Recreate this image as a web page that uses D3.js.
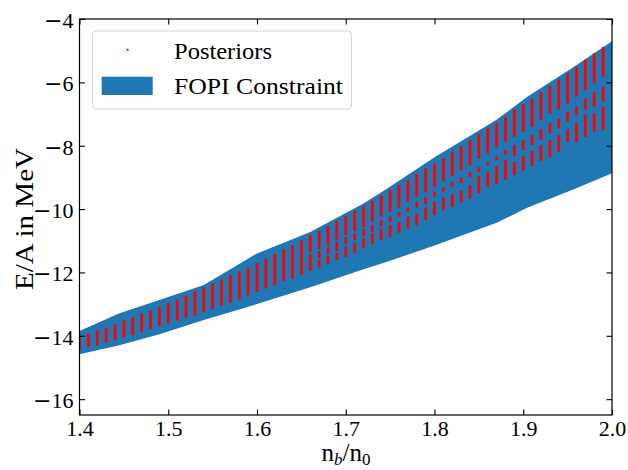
<!DOCTYPE html>
<html>
<head>
<meta charset="utf-8">
<script src="https://cdn.jsdelivr.net/npm/d3@7"></script>
<style>
  body { margin: 0; background: #fff; }
  svg { display: block; }
  text { font-family: "Liberation Serif", "Times New Roman", serif; fill: #000; }
</style>
</head>
<body>
<svg id="chart" width="628" height="470"></svg>
<script>
// FOPI constraint band: E/A bounds (MeV) versus density n_b/n_0
const fopiDensity = [1.40, 1.445, 1.49, 1.54, 1.60, 1.66, 1.72, 1.745, 1.80, 1.87, 1.905, 1.955, 2.00];
const fopiUpper   = [-13.85, -13.29, -12.87, -12.40, -11.40, -10.72, -9.82, -9.38, -8.36, -7.18, -6.45, -5.55, -4.70];
const fopiLower   = [-14.58, -14.30, -13.95, -13.50, -13.00, -12.47, -11.90, -11.68, -11.15, -10.43, -9.95, -9.40, -8.87];

// Posterior samples: densities where E/A is evaluated
const posteriorDensity = [
  1.40, 1.41, 1.42, 1.43, 1.44, 1.45, 1.46, 1.47, 1.48, 1.49,
  1.50, 1.51, 1.52, 1.53, 1.54, 1.55, 1.56, 1.57, 1.58, 1.59,
  1.60, 1.61, 1.62, 1.63, 1.64, 1.65, 1.66, 1.67, 1.68, 1.69,
  1.70, 1.71, 1.72, 1.73, 1.74, 1.75, 1.76, 1.77, 1.78, 1.79,
  1.80, 1.81, 1.82, 1.83, 1.84, 1.85, 1.86, 1.87, 1.88, 1.89,
  1.90, 1.91, 1.92, 1.93, 1.94, 1.95, 1.96, 1.97, 1.98, 1.99
];
// E/A ranges [low, high] covered by the posterior samples at each density
const posteriorRanges = [
  [[-14.45, -14.01]], [[-14.35, -13.93]], [[-14.30, -13.82]], [[-14.21, -13.74]], [[-14.14, -13.63]],
  [[-14.05, -13.51]], [[-13.98, -13.42]], [[-13.88, -13.29]], [[-13.79, -13.21]], [[-13.69, -13.09]],
  [[-13.61, -12.96]], [[-13.53, -12.85]], [[-13.43, -12.73]], [[-13.36, -12.60]], [[-13.25, -12.47]],
  [[-13.15, -12.35]], [[-13.05, -12.22]], [[-12.96, -12.09]], [[-12.85, -11.97]], [[-12.72, -11.84]],
  [[-12.61, -11.70]], [[-12.51, -11.56]], [[-12.40, -11.42]], [[-12.27, -11.27]], [[-12.19, -11.14]],
  [[-12.08, -10.98]],
  [[-11.95, -11.42], [-11.36, -10.83]],
  [[-11.84, -11.61], [-11.55, -11.33], [-11.26, -10.69]],
  [[-11.74, -11.47], [-11.41, -11.20], [-11.14, -10.54]],
  [[-11.61, -11.38], [-11.32, -11.03], [-10.96, -10.37]],
  [[-11.51, -11.19], [-11.11, -10.89], [-10.82, -10.22]],
  [[-11.38, -11.07], [-10.98, -10.77], [-10.69, -10.06]],
  [[-11.24, -10.93], [-10.85, -10.64], [-10.58, -9.91]],
  [[-11.11, -10.77], [-10.72, -10.51], [-10.40, -9.74]],
  [[-10.98, -10.62], [-10.54, -10.35], [-10.24, -9.57]],
  [[-10.88, -10.51], [-10.40, -10.24], [-10.09, -9.40]],
  [[-10.75, -10.40], [-10.24, -10.09], [-9.95, -9.24]],
  [[-10.61, -10.24], [-10.09, -9.95], [-9.77, -9.08]],
  [[-10.51, -10.14], [-9.95, -9.77], [-9.61, -8.89]],
  [[-10.35, -9.95], [-9.84, -9.61], [-9.45, -8.72]],
  [[-10.19, -9.77], [-9.61, -9.45], [-9.30, -8.56]],
  [[-10.03, -9.63], [-9.45, -9.32], [-9.11, -8.40]],
  [[-9.93, -9.53], [-9.30, -9.14], [-8.96, -8.19]],
  [[-9.80, -9.42], [-9.19, -9.00], [-8.77, -8.01]],
  [[-9.66, -9.24], [-9.00, -8.82], [-8.61, -7.82]],
  [[-9.51, -8.96], [-8.82, -8.68], [-8.40, -7.63]],
  [[-9.30, -8.82], [-8.61, -8.51], [-8.24, -7.45]],
  [[-9.21, -8.64], [-8.45, -8.33], [-8.05, -7.28]],
  [[-9.07, -8.45], [-8.29, -8.14], [-7.88, -7.09]],
  [[-8.93, -8.51], [-8.33, -7.98], [-7.72, -6.85]],
  [[-8.79, -8.33], [-8.14, -7.82], [-7.56, -6.68]],
  [[-8.64, -8.16], [-7.98, -7.66], [-7.40, -6.51]],
  [[-8.48, -7.98], [-7.82, -7.48], [-7.19, -6.30]],
  [[-8.35, -7.82], [-7.61, -7.29], [-6.98, -6.12]],
  [[-8.20, -7.66], [-7.45, -7.14], [-6.85, -5.91]],
  [[-7.88, -7.48], [-7.24, -6.93], [-6.66, -5.70]],
  [[-7.88, -7.29], [-7.03, -6.77], [-6.45, -5.51]],
  [[-7.72, -7.03], [-6.87, -6.51], [-6.24, -5.29]],
  [[-7.56, -6.98], [-6.77, -6.30], [-6.03, -5.08]],
  [[-7.51, -6.77], [-6.61, -6.14], [-5.82, -4.88]]
];

const xTicks = [1.4, 1.5, 1.6, 1.7, 1.8, 1.9, 2.0];
const yTicks = [-16, -14, -12, -10, -8, -6, -4];
const legendLabels = ["Posteriors", "FOPI Constraint"];

const BLUE = "#1f77b4", RED = "#ff0000";
const plot = { left: 79.5, right: 612, top: 19, bottom: 415 };

const svg = d3.select("#chart");
const x = d3.scaleLinear().domain([1.4, 2.0]).range([plot.left, plot.right]);
const y = d3.scaleLinear().domain([-16.5, -4]).range([plot.bottom, plot.top]);

svg.append("defs").append("clipPath").attr("id", "plotClip")
  .append("rect")
  .attr("x", plot.left).attr("y", plot.top)
  .attr("width", plot.right - plot.left).attr("height", plot.bottom - plot.top);

const body = svg.append("g").attr("clip-path", "url(#plotClip)");

// FOPI band
const band = fopiDensity.map((n, i) => ({ n, lo: fopiLower[i], hi: fopiUpper[i] }));
body.append("path")
  .datum(band)
  .attr("fill", BLUE)
  .attr("d", d3.area().x(d => x(d.n)).y0(d => y(d.lo)).y1(d => y(d.hi)));

// Posterior samples
const runs = [];
posteriorDensity.forEach((n, i) => posteriorRanges[i].forEach(r => runs.push({ n, lo: r[0], hi: r[1] })));
body.append("g").selectAll("rect")
  .data(runs)
  .join("rect")
  .attr("x", d => x(d.n) - 1.4)
  .attr("width", 2.8)
  .attr("y", d => y(d.hi))
  .attr("height", d => y(d.lo) - y(d.hi))
  .attr("fill", RED);

// Axes with inward ticks on all four sides
const TICK = 5.5;
const fmtX = d3.format(".1f");
const gx = svg.append("g").attr("transform", `translate(0,${plot.bottom})`)
  .call(d3.axisBottom(x).tickValues(xTicks).tickFormat(fmtX).tickSizeInner(-TICK).tickSizeOuter(0).tickPadding(5));
const gxTop = svg.append("g").attr("transform", `translate(0,${plot.top})`)
  .call(d3.axisTop(x).tickValues(xTicks).tickFormat("").tickSizeInner(-TICK).tickSizeOuter(0));
const gy = svg.append("g").attr("transform", `translate(${plot.left},0)`)
  .call(d3.axisLeft(y).tickValues(yTicks).tickSizeInner(-TICK).tickSizeOuter(0).tickPadding(6));
const gyRight = svg.append("g").attr("transform", `translate(${plot.right},0)`)
  .call(d3.axisRight(y).tickValues(yTicks).tickFormat("").tickSizeInner(-TICK).tickSizeOuter(0));

[gx, gxTop, gy, gyRight].forEach(g => {
  g.select(".domain").remove();
  g.selectAll(".tick line").attr("stroke", "#000").attr("stroke-width", 1.1);
});
gx.selectAll(".tick text").attr("font-size", 22).attr("font-family", "Liberation Serif").attr("fill", "#000");
gy.selectAll(".tick text")
  .attr("font-size", 22).attr("font-family", "Liberation Serif").attr("fill", "#000").attr("dy", "0.38em")
  .each(function (d) {
    const t = d3.select(this).text(null);
    if (d < 0) t.append("tspan").attr("font-family", "DejaVu Sans").text("\u2212");
    t.append("tspan").text(Math.abs(d));
  });

// Frame
svg.append("rect")
  .attr("x", plot.left).attr("y", plot.top)
  .attr("width", plot.right - plot.left).attr("height", plot.bottom - plot.top)
  .attr("fill", "none").attr("stroke", "#000").attr("stroke-width", 1.2);

// Axis labels
svg.append("text")
  .attr("transform", "translate(33,219) rotate(-90)")
  .attr("text-anchor", "middle")
  .attr("font-size", 25)
  .attr("textLength", 142).attr("lengthAdjust", "spacingAndGlyphs")
  .text("E/A in MeV");

const xl = svg.append("text")
  .attr("x", 346).attr("y", 461)
  .attr("text-anchor", "middle")
  .attr("font-size", 25);
xl.append("tspan").text("n");
xl.append("tspan").attr("font-size", 17).attr("font-style", "italic").attr("dy", 4).text("b");
xl.append("tspan").attr("dy", -4).text("/n");
xl.append("tspan").attr("font-size", 17).attr("dy", 4).text("0");

// Legend
const lg = svg.append("g");
lg.append("rect")
  .attr("x", 92.5).attr("y", 31).attr("width", 259).attr("height", 78).attr("rx", 4)
  .attr("fill", "#fff").attr("fill-opacity", 0.8)
  .attr("stroke", "#d4d4d4").attr("stroke-width", 1.1);
lg.append("rect").attr("x", 126.5).attr("y", 48.7).attr("width", 2).attr("height", 2).attr("fill", RED);
lg.append("rect").attr("x", 101.7).attr("y", 76.7).attr("width", 51).attr("height", 18.3).attr("fill", BLUE);
lg.append("text").attr("x", 174).attr("y", 59.3).attr("font-size", 24)
  .attr("textLength", 98).attr("lengthAdjust", "spacingAndGlyphs").text(legendLabels[0]);
lg.append("text").attr("x", 174).attr("y", 94).attr("font-size", 24)
  .attr("textLength", 169).attr("lengthAdjust", "spacingAndGlyphs").text(legendLabels[1]);
</script>
</body>
</html>
